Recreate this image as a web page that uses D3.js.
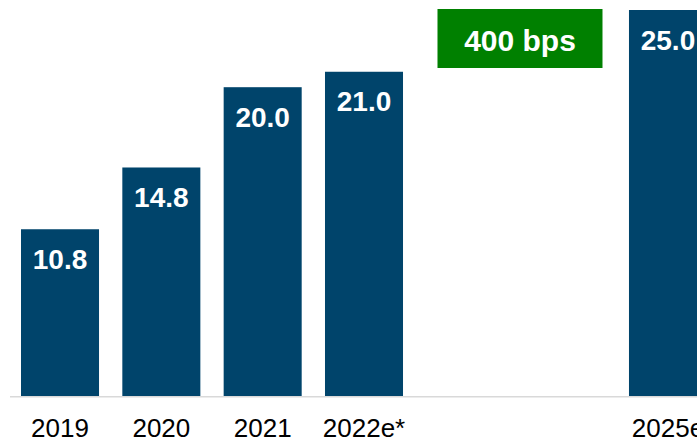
<!DOCTYPE html>
<html>
<head>
<meta charset="utf-8">
<script src="https://cdn.jsdelivr.net/npm/d3@7"></script>
<style>
  html, body { margin: 0; padding: 0; background: #fff; }
  svg { display: block; font-family: "Liberation Sans", Arial, sans-serif; }
  .axis text { font-size: 26px; fill: #000; }
  .label { font-size: 28px; font-weight: bold; fill: #fff; }
</style>
</head>
<body>
<svg id="chart" width="697" height="440"></svg>
<script>
// bar values
const categories = ['2019', '2020', '2021', '2022e*', '2025e'];
const values = [10.8, 14.8, 20.0, 21.0, 25.0];
const callout = '400 bps';

const svg = d3.select('#chart');
const baseY = 396;

// two empty slots between 2022e* and 2025e
const slots = [...categories.slice(0, 4), '_gap1', '_gap2', categories[4]];

const x = d3.scaleBand()
  .domain(slots)
  .range([21, 707])
  .paddingInner(0.23)
  .paddingOuter(0);

const y = d3.scaleLinear()
  .domain([0, 25])
  .range([baseY, 10]);

const data = categories.map((c, i) => ({cat: c, value: values[i]}));

// bars
const bars = svg.selectAll('.bar-group').data(data).join('g')
  .attr('class', 'bar-group')
  .attr('transform', d => `translate(${x(d.cat)},0)`);

bars.append('rect')
  .attr('x', 0)
  .attr('y', d => y(d.value))
  .attr('width', x.bandwidth())
  .attr('height', d => baseY - y(d.value))
  .attr('fill', '#00446b');

bars.append('text')
  .attr('class', 'label')
  .attr('x', x.bandwidth() / 2)
  .attr('y', d => y(d.value) + 39.5)
  .attr('text-anchor', 'middle')
  .text(d => d.value.toFixed(1));

// baseline
svg.append('line')
  .attr('x1', 10).attr('x2', 697)
  .attr('y1', baseY + 0.75).attr('y2', baseY + 0.75)
  .attr('stroke', '#d9d9d9')
  .attr('stroke-width', 1.5);

// category labels
const xAxis = d3.axisBottom(x).tickSize(0).tickPadding(0)
  .tickValues(categories);
svg.append('g')
  .attr('class', 'axis')
  .attr('transform', `translate(0,${baseY})`)
  .call(xAxis)
  .call(g => g.select('.domain').remove())
  .selectAll('text')
    .attr('y', 40.5)
    .attr('dy', 0)
    .attr('font-family', null)
    .attr('font-size', null);

// green callout box centred over the gap
const gx0 = x('_gap1'), gx1 = x('_gap2') + x.bandwidth();
const gc = (gx0 + gx1) / 2 + 4;
svg.append('rect')
  .attr('x', gc - 82.5)
  .attr('y', 9)
  .attr('width', 165)
  .attr('height', 59)
  .attr('fill', '#008000');
svg.append('text')
  .attr('class', 'label')
  .attr('x', gc)
  .attr('y', 51)
  .attr('text-anchor', 'middle')
  .style('font-size', '30px')
  .text(callout);
</script>
</body>
</html>
